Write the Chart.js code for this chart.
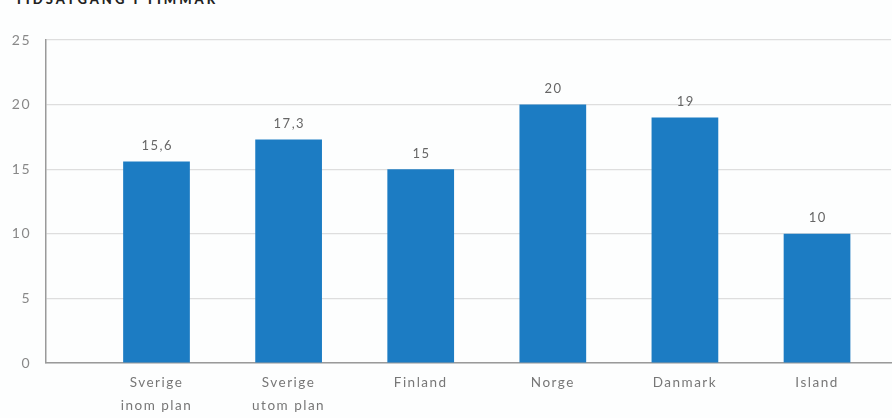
<!DOCTYPE html>
<html>
<head>
<meta charset="utf-8">
<script src="https://cdn.jsdelivr.net/npm/chart.js@4/dist/chart.umd.min.js"></script>
<style>
  html, body { margin: 0; padding: 0; background: #fdfefe; }
  #wrap { position: relative; width: 892px; height: 418px; overflow: hidden; }
  #title { position: absolute; left: 15px; top: -9px; font-family: Lato, sans-serif; font-weight: 900; font-size: 13px; letter-spacing: 3px; color: #222; white-space: nowrap; }
  canvas { position: absolute; left: 0; top: 0; }
</style>
</head>
<body>
<div id="wrap">
  <div id="title">TIDSÅTGÅNG I TIMMAR</div>
  <canvas id="c" width="892" height="418"></canvas>
</div>
<script>
const categories = [["Sverige", "inom plan"], ["Sverige", "utom plan"], "Finland", "Norge", "Danmark", "Island"];
const values = [15.6, 17.3, 15, 20, 19, 10];
const valueLabels = ["15,6", "17,3", "15", "20", "19", "10"];
const yTicks = [0, 5, 10, 15, 20, 25];

const spacingPlugin = {
  id: 'spacing',
  beforeUpdate(chart) { chart.ctx.letterSpacing = '1.5px'; },
  beforeDraw(chart) { chart.ctx.letterSpacing = '1.5px'; }
};

const valueLabelPlugin = {
  id: 'valueLabels',
  afterDatasetsDraw(chart) {
    const ctx = chart.ctx;
    const meta = chart.getDatasetMeta(0);
    ctx.save();
    ctx.letterSpacing = '1.5px';
    ctx.font = '13px Lato, sans-serif';
    ctx.fillStyle = '#666';
    ctx.textAlign = 'center';
    ctx.textBaseline = 'bottom';
    meta.data.forEach((el, i) => {
      ctx.fillText(valueLabels[i], el.x + 0.75, el.y - 9);
    });
    ctx.restore();
  }
};

new Chart(document.getElementById('c'), {
  type: 'bar',
  data: {
    datasets: [{
      data: values.map((v, i) => ({ x: i, y: v })),
      backgroundColor: '#1c7cc3',
      borderWidth: 0,
      barPercentage: 0.505,
      categoryPercentage: 1.0
    }]
  },
  options: {
    responsive: false,
    animation: false,
    devicePixelRatio: 1,
    layout: { padding: { top: 40, left: 0, right: 1, bottom: 0 } },
    plugins: { legend: { display: false }, tooltip: { enabled: false } },
    scales: {
      x: {
        type: 'linear',
        min: -0.8365,
        max: 5.56,
        offset: false,
        afterBuildTicks(scale) { scale.ticks = categories.map((_, i) => ({ value: i })); },
        afterFit(scale) { scale.height = 55; },
        grid: { display: false, drawTicks: false },
        border: { display: true, color: '#9a9a9a', width: 1.5 },
        ticks: {
          autoSkip: false,
          maxRotation: 0,
          padding: 8,
          color: '#777',
          font: { family: 'Lato, sans-serif', size: 13.5, lineHeight: 1.72 },
          callback: (v) => categories[v]
        }
      },
      y: {
        min: 0,
        max: 25,
        afterBuildTicks(scale) { scale.ticks = yTicks.map(v => ({ value: v })); },
        afterFit(scale) { scale.width = 46; },
        grid: { color: '#dedede', lineWidth: 1.2, drawTicks: false },
        border: { display: true, color: '#9a9a9a', width: 1.5 },
        ticks: {
          padding: 15,
          color: '#888',
          font: { family: 'Lato, sans-serif', size: 14 }
        }
      }
    }
  },
  plugins: [spacingPlugin, valueLabelPlugin]
});
</script>
</body>
</html>
